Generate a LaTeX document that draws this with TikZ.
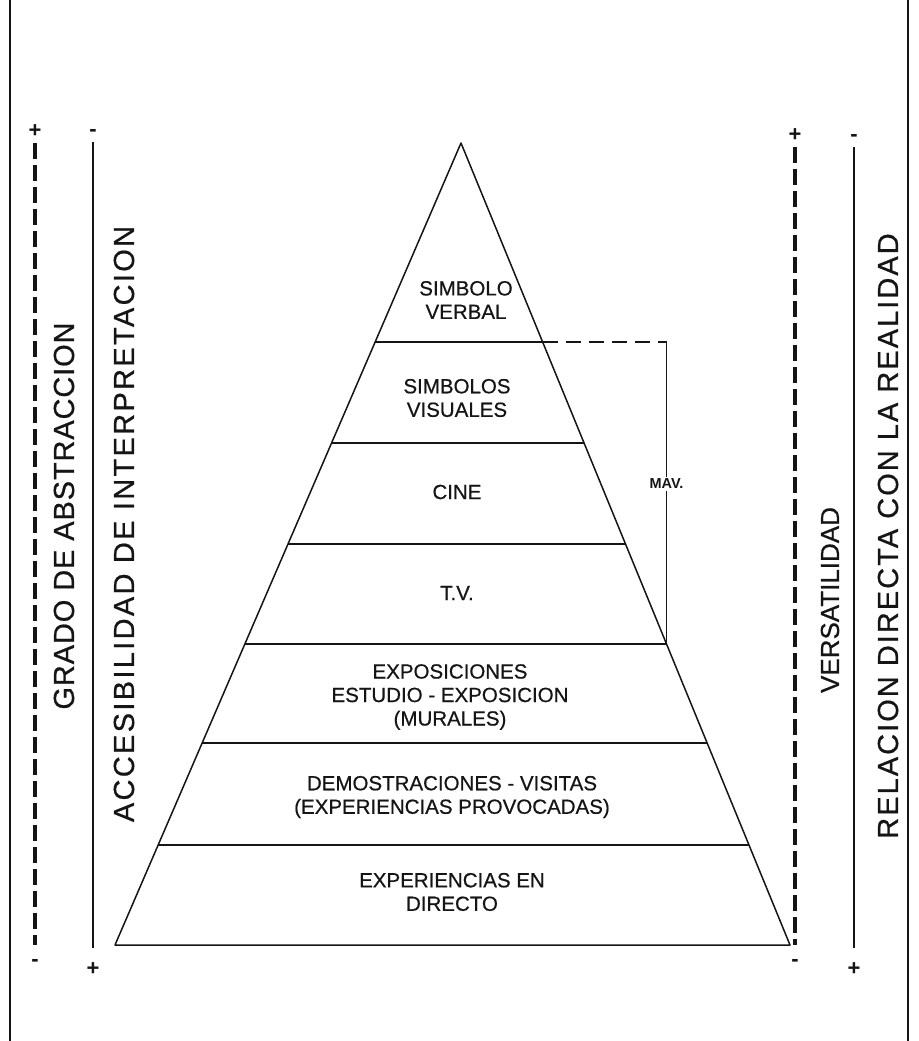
\documentclass[tikz,border=0pt]{standalone}
\usepackage{fontspec}
\setmainfont{Liberation Sans}
\newfontfamily\inkfont{Liberation Sans}[FakeBold=0.6]
\usetikzlibrary{calc}
\definecolor{ink}{HTML}{151515}

\begin{document}
\begin{tikzpicture}[x=1pt,y=-1pt,line join=round,
    edge/.style={draw=ink,line width=1.5pt},
    rule/.style={draw=ink,line width=1.3pt},
    scalebar/.style={draw=ink,line width=4.5pt,dash pattern=on 16pt off 6pt},
    lvl/.style={text=ink,font=\inkfont\fontsize{20.5}{23.5}\selectfont,align=center,inner sep=0pt},
    axislab/.style={text=ink,font=\inkfont\fontsize{29}{32}\selectfont\addfontfeatures{LetterSpace=#1},
      rotate=90,inner sep=0pt},
    axislab/.default=0,
    sgn/.style={text=ink,font=\bfseries\fontsize{22}{22}\selectfont,inner sep=0pt}]
  \useasboundingbox (0,0) rectangle (918,1041);
  % page edges of the scan
  \draw[rule] (10,0) -- (10,1041);
  \draw[rule] (908,0) -- (908,1041);

  % the cone, cut into its seven bands
  \coordinate (apex) at (461,143);
  \coordinate (bl) at (115,945);
  \coordinate (br) at (790,945);
  \draw[edge] (bl) -- (apex) -- (br) -- cycle;
  \foreach \y [count=\i] in {342,443,544,644,743,845}{
    \pgfmathsetmacro\t{(\y-143)/802}
    \coordinate (l\i) at ($(apex)!\t!(bl)$);
    \coordinate (r\i) at ($(apex)!\t!(br)$);
    \draw[edge] (l\i) -- (r\i);}

  \node[lvl] (verbal) at (466,300) {SIMBOLO\\VERBAL};
  \node[lvl] (visual) at (457,398) {SIMBOLOS\\VISUALES};
  \node[lvl] (cine) at (457,492) {CINE};
  \node[lvl] (tv) at (457,593) {T.V.};
  \node[lvl] (expo) at (450,697) {EXPOSICIONES\\ESTUDIO - EXPOSICION\\(MURALES)};
  \node[lvl] (demo) at (452,797) {DEMOSTRACIONES - VISITAS\\(EXPERIENCIAS PROVOCADAS)};
  \node[lvl] (directo) at (452,892) {EXPERIENCIAS EN\\DIRECTO};

  % bracket of the audiovisual media
  \node[text=ink,font=\bfseries\fontsize{14.5}{15}\selectfont,inner sep=2pt] (mav) at (r4 |- 0,484) {MAV.};
  \draw[edge,line width=1.2pt,dash pattern=on 15pt off 8pt] (r1) -- (r1 -| r4);
  \draw[edge,line width=1.2pt] (r1 -| r4) -- (mav.north);
  \draw[edge,line width=1.2pt] (mav.south) -- (r4);

  % the four scales, with their signs
  \foreach \n/\x/\ya/\yb/\top/\bot in {gradobar/35/143/945/+/-, accesbar/93/142/948/-/+,
                                      versabar/795/147/945/+/-, relacbar/854/147/948/-/+}{
    \coordinate (\n a) at (\x,\ya);
    \coordinate (\n b) at (\x,\yb);
    \node[sgn,above=5pt] at (\n a) {\top};
    \node[sgn,below=14pt] at (\n b) {\bot};}
  \draw[scalebar] (gradobara) -- (gradobarb);
  \draw[scalebar] (versabara) -- (versabarb);
  \draw[rule] (accesbara) -- (accesbarb);
  \draw[rule] (relacbara) -- (relacbarb);

  \node[axislab=3] (grado) at (64,516) {GRADO DE ABSTRACCION};
  \node[axislab=8] (acces) at (124,524) {ACCESIBILIDAD DE INTERPRETACION};
  \node[axislab] (versa) at (830,600) {\fontsize{26}{30}\selectfont VERSATILIDAD};
  \node[axislab=7] (relac) at (888,536) {RELACION DIRECTA CON LA REALIDAD};
\end{tikzpicture}
\end{document}
